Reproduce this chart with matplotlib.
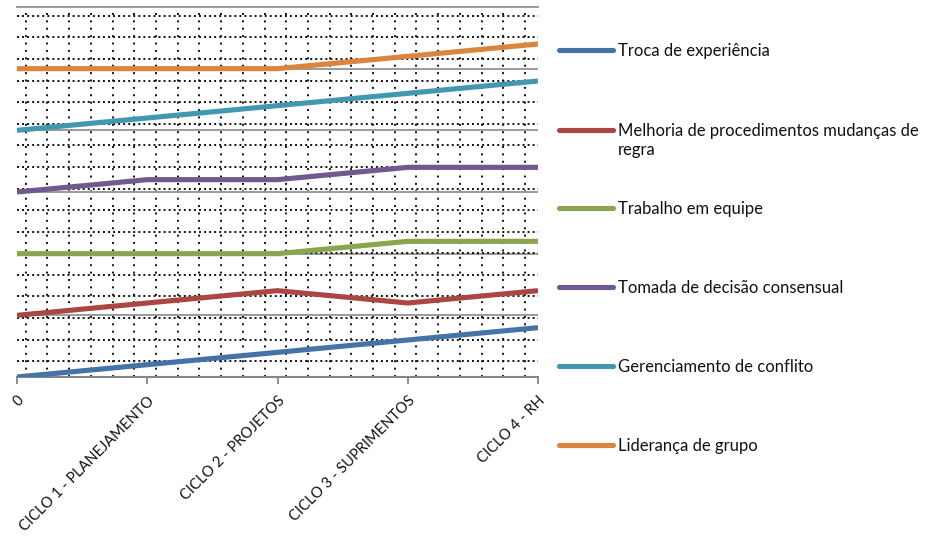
import textwrap
import numpy as np
import matplotlib
matplotlib.use("Agg")
import matplotlib.pyplot as plt
from matplotlib.lines import Line2D

plt.rcParams['font.family'] = ['Lato', 'DejaVu Sans']

categories = ["0", "CICLO 1 - PLANEJAMENTO", "CICLO 2 - PROJETOS",
              "CICLO 3 - SUPRIMENTOS", "CICLO 4 - RH"]

troca = [0.0, 0.2, 0.4, 0.6, 0.8]
melhoria = [1.0, 1.2, 1.4, 1.2, 1.4]
trabalho = [2.0, 2.0, 2.0, 2.2, 2.2]
tomada = [3.0, 3.2, 3.2, 3.4, 3.4]
gerenciamento = [4.0, 4.2, 4.4, 4.6, 4.8]
lideranca = [5.0, 5.0, 5.0, 5.2, 5.4]

series_names = ["Troca de experiência",
                "Melhoria de procedimentos mudanças de regra",
                "Trabalho em equipe",
                "Tomada de decisão consensual",
                "Gerenciamento de conflito",
                "Liderança de grupo"]
series_values = [troca, melhoria, trabalho, tomada, gerenciamento, lideranca]
colors = ["#4572A7", "#AA4643", "#89A54E", "#71588F", "#4198AF", "#DB843D"]

W, H = 935, 536
fig = plt.figure(figsize=(W / 100, H / 100), dpi=100)
ax = fig.add_axes([17 / W, (H - 377) / H, (538 - 17) / W, (377 - 7) / H])

x = np.arange(len(categories))
for vals, c, name in zip(series_values, colors, series_names):
    ax.plot(x, vals, color=c, lw=3.7, solid_capstyle='butt', zorder=5,
            label=name)

ax.set_xlim(0, 4)
ax.set_ylim(0, 6)

# major horizontal grid (solid gray)
ax.set_yticks(np.arange(0, 7, 1))
ax.yaxis.grid(True, which='major', color='#9a9a9a', lw=1.4, zorder=1)
ax.tick_params(axis='y', which='both', length=0, labelleft=False)

# dotted minor pattern grid
xm = np.arange(0.067, 4.0, 1 / 6)
ym = np.arange(5.856, 0, -0.35)
ax.set_xticks(xm, minor=True)
ax.set_yticks(ym, minor=True)
ax.xaxis.grid(True, which='minor', color='#111111', lw=1.4,
              linestyle=(0, (1, 2.8)), zorder=1)
ax.yaxis.grid(True, which='minor', color='#111111', lw=1.4,
              linestyle=(0, (1, 1.6)), zorder=1)
ax.tick_params(axis='x', which='minor', length=0)
ax.set_axisbelow(True)

ax.set_xticks(x)
ax.set_xticklabels(categories, rotation=45, ha='right',
                   rotation_mode='anchor', fontsize=10.5, color='#111111')
ax.tick_params(axis='x', which='major', length=5, color='#868686',
               width=1.3, pad=7)

for s in ['left', 'right']:
    ax.spines[s].set_visible(False)
ax.spines['top'].set_color('#9a9a9a')
ax.spines['top'].set_linewidth(1.4)
ax.spines['bottom'].set_color('#868686')
ax.spines['bottom'].set_linewidth(1.5)

# legend drawn manually
row_y = [50, 130, 208, 287, 366, 445]
for name, c, yy in zip(series_names, colors, row_y):
    fy = 1 - yy / H
    fig.add_artist(Line2D([559 / W, 613 / W], [fy, fy], color=c, lw=3.7,
                          solid_capstyle='round', transform=fig.transFigure))
    fig.text(618 / W, fy + 7 / H, textwrap.fill(name, 38), fontsize=12,
             va='top', ha='left', color='#111111', linespacing=1.25)

fig.savefig("out.png", dpi=100)
